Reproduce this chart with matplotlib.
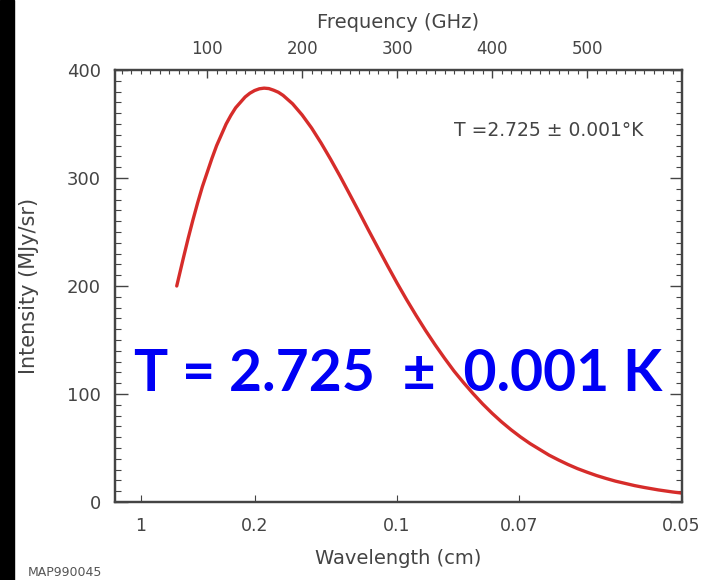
import matplotlib
matplotlib.use("Agg")
import matplotlib.pyplot as plt
from matplotlib.patches import Rectangle
from matplotlib.ticker import MultipleLocator

# spectrum: frequency (GHz) vs intensity (MJy/sr)
freq_ghz = [68, 75, 80, 85, 90, 95, 100, 105, 110, 115, 120, 125, 130, 135, 140,
            145, 150, 155, 160, 165, 170, 175, 180, 190, 200, 210, 220, 230, 240,
            250, 260, 270, 280, 290, 300, 310, 320, 330, 340, 350, 360, 370, 380,
            390, 400, 410, 420, 430, 440, 460, 470, 480, 490, 500, 510, 520, 530,
            550, 560, 575, 590, 600]
intensity = [200, 226, 244, 261, 277, 292, 305, 318, 330, 340, 350, 358, 365, 370, 375,
             378.5, 381, 382.6, 383.2, 382.8, 381.3, 379.4, 376.5, 368.7, 358.4, 346.3,
             332.4, 317.4, 301.6, 285.1, 268.5, 251.6, 235.1, 218.7, 202.7, 187.4,
             172.8, 158.8, 145.6, 133.1, 121.2, 110.5, 100.4, 90.9, 82.2, 74.2, 66.9,
             60.2, 54.1, 43.4, 38.9, 34.7, 30.9, 27.6, 24.5, 21.8, 19.3,
             15.2, 13.5, 11.2, 9.3, 8.2]

freq_ticks = [100, 200, 300, 400, 500]
wave_ticks = [1, 0.2, 0.1, 0.07, 0.05]
wave_labels = ["1", "0.2", "0.1", "0.07", "0.05"]
y_ticks = [0, 100, 200, 300, 400]

grey = "#444444"
plt.rcParams['font.family'] = ['DejaVu Sans']

fig = plt.figure(figsize=(7.12, 5.8), dpi=100)
fig.patches.append(Rectangle((0, 0), 14 / 712, 1, transform=fig.transFigure,
                             color="black", zorder=0))
ax = fig.add_axes([115 / 712, 1 - 502 / 580, 567 / 712, 432 / 580])

ax.plot(freq_ghz, intensity, color="#d62c2a", lw=2.4, solid_capstyle="round")
ax.set_xlim(3, 600)
ax.set_ylim(0, 400)

# bottom axis: wavelength labels placed at c/lambda
ax.set_xticks([29.98 / w for w in wave_ticks])
ax.set_xticklabels(wave_labels)
ax.set_yticks(y_ticks)
ax.yaxis.set_minor_locator(MultipleLocator(10))
ax.tick_params(axis="x", direction="in", length=5, width=0.8, pad=11,
               labelsize=12.5, colors=grey)
ax.tick_params(axis="y", which="major", direction="in", length=9, width=1,
               pad=10, labelsize=13, colors=grey, right=True)
ax.tick_params(axis="y", which="minor", direction="in", length=4, width=0.8,
               right=True, colors=grey)

top = ax.twiny()
top.set_xlim(ax.get_xlim())
top.set_xticks(freq_ticks)
top.xaxis.set_minor_locator(MultipleLocator(10))
top.tick_params(axis="x", which="major", direction="in", length=6, width=1,
                pad=9, labelsize=12, colors=grey)
top.tick_params(axis="x", which="minor", direction="in", length=3, width=0.8,
                colors=grey)

for a in (ax, top):
    for s in a.spines.values():
        s.set_color(grey)
        s.set_linewidth(1.6)

ax.set_ylabel("Intensity (MJy/sr)", fontsize=15, color=grey)
ax.yaxis.set_label_coords(-0.134, 0.5)
ax.set_xlabel("Wavelength (cm)", fontsize=14, color=grey)
ax.xaxis.set_label_coords(0.5, -0.108)
top.set_xlabel("Frequency (GHz)", fontsize=14, color=grey)
top.xaxis.set_label_coords(0.5, 1.097)

ax.text(0.764, 0.861, "T =2.725 \u00b1 0.001\u00b0K", transform=ax.transAxes,
        ha="center", va="center", fontsize=13.5, color=grey)
ax.text(0.499, 0.257, "T = 2.725  \u00b1  0.001 K", transform=ax.transAxes,
        ha="center", va="baseline", fontsize=41, fontweight="bold",
        family=["Lato", "DejaVu Sans"], color="#0000f5", zorder=5)

fig.text(28 / 712, 1 - 573 / 580, "MAP990045", fontsize=9, color="#555555",
         va="center", ha="left")

fig.savefig("out.png", dpi=100)
